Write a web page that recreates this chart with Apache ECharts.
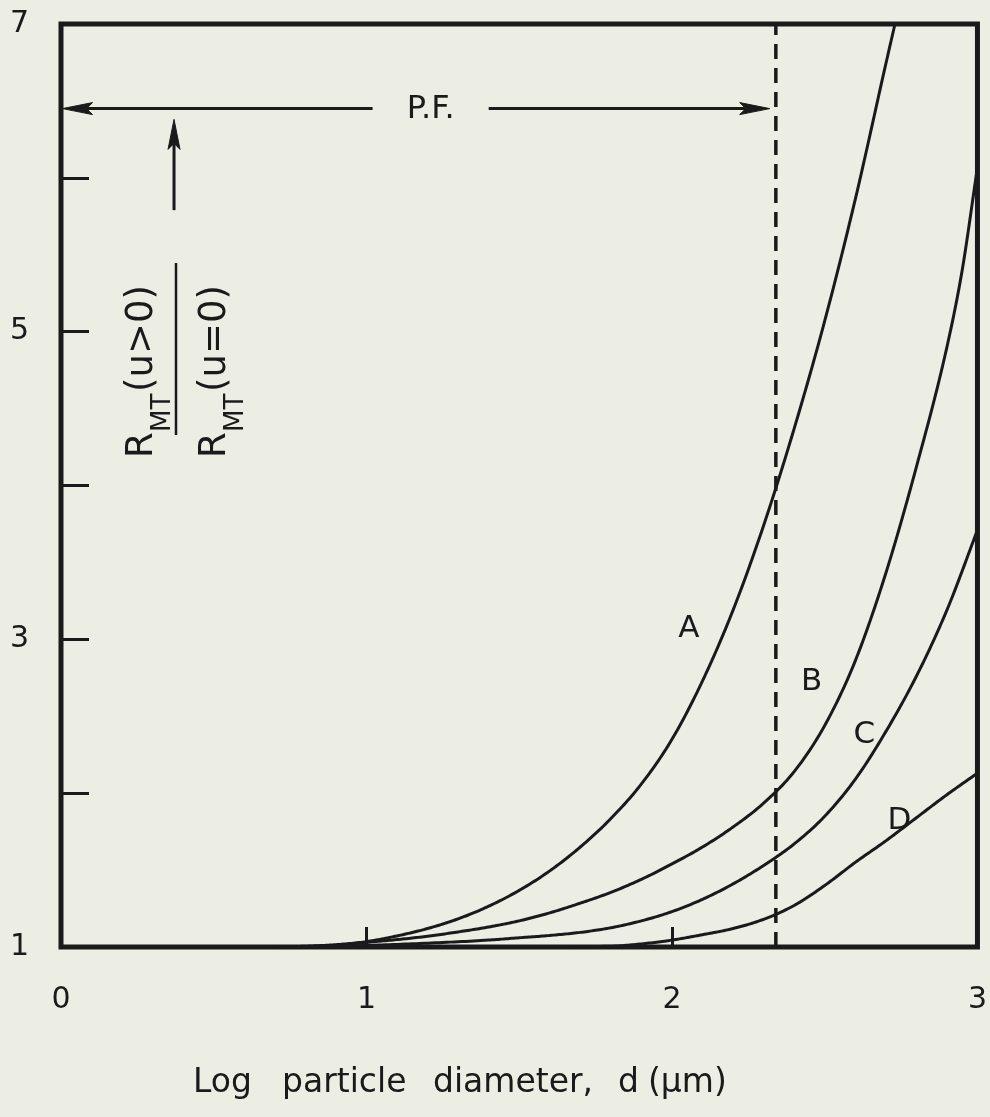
<!DOCTYPE html>
<html><head><meta charset="utf-8">
<script src="https://cdn.jsdelivr.net/npm/echarts@6/dist/echarts.min.js"></script>
<style>html,body{margin:0;padding:0;background:#eceee4;}#c{width:990px;height:1117px;}</style>
</head><body><div id="c"></div>
<script>
// ---- data ----
const xTickValues = [0, 1, 2, 3];
const yTickLabels = {1: '1', 3: '3', 5: '5', 7: '7'};
const curveA = [[0.7,1.0],[0.8,1.005],[0.9,1.015],[1.0,1.035],[1.1,1.072],[1.2,1.12],[1.3,1.183],[1.4,1.265],[1.5,1.368],[1.6,1.495],[1.7,1.65],[1.8,1.835],[1.9,2.06],[2.0,2.35],[2.1,2.73],[2.2,3.19],[2.3,3.74],[2.4,4.37],[2.5,5.07],[2.6,5.86],[2.7,6.74],[2.73,7.0]];
const curveB = [[0.7,1.0],[0.9,1.01],[1.0,1.03],[1.1,1.048],[1.2,1.07],[1.3,1.098],[1.4,1.13],[1.5,1.17],[1.6,1.222],[1.7,1.285],[1.8,1.355],[1.9,1.44],[2.0,1.54],[2.1,1.65],[2.2,1.78],[2.3,1.935],[2.4,2.14],[2.5,2.44],[2.6,2.86],[2.7,3.43],[2.8,4.12],[2.9,4.9],[2.95,5.4],[3.0,6.07]];
const curveC = [[0.8,1.0],[1.0,1.01],[1.2,1.025],[1.4,1.045],[1.5,1.06],[1.6,1.075],[1.7,1.095],[1.8,1.125],[1.9,1.17],[2.0,1.23],[2.1,1.31],[2.2,1.41],[2.3,1.53],[2.4,1.67],[2.5,1.85],[2.6,2.09],[2.7,2.40],[2.8,2.76],[2.9,3.19],[3.0,3.71]];
const curveD = [[0.8,1.0],[1.5,1.0],[1.8,1.005],[1.9,1.02],[2.0,1.045],[2.1,1.08],[2.2,1.12],[2.3,1.18],[2.4,1.27],[2.5,1.40],[2.6,1.55],[2.7,1.69],[2.8,1.84],[2.9,1.99],[3.0,2.13]];
const curves = [curveA, curveB, curveC, curveD];
const curveNames = ['A', 'B', 'C', 'D'];
const curveLabelAt = [[2.055, 3.07], [2.457, 2.72], [2.63, 2.38], [2.745, 1.82]];
const pfLine = 2.34;          // dashed vertical line (x)
const pfText = 'P.F.';
const pfTextAt = [1.21, 6.445];
// arrows: x1, y1, x2, y2 (head drawn at x2,y2)
const arrows = [[1.02, 6.45, 0.005, 6.45], [1.40, 6.45, 2.32, 6.45], [0.37, 5.79, 0.37, 6.38]];
const xTitleWords = ['Log', 'particle', 'diameter,', 'd', '(\u03bcm)'];

const INK = '#1a1a1a';
const FONT = '"DejaVu Sans", sans-serif';
const chart = echarts.init(document.getElementById('c'), null, {renderer: 'canvas'});

// monotone cubic (Fritsch-Carlson) path through the read points, for drawing only
function hermitePoints(pts, steps) {
  const n = pts.length, xs = pts.map(p => p[0]), ys = pts.map(p => p[1]);
  const d = [], m = new Array(n);
  for (let i = 0; i < n - 1; i++) d.push((ys[i + 1] - ys[i]) / (xs[i + 1] - xs[i]));
  m[0] = d[0]; m[n - 1] = d[n - 2];
  for (let i = 1; i < n - 1; i++) m[i] = (d[i - 1] * d[i] <= 0) ? 0 : (d[i - 1] + d[i]) / 2;
  for (let i = 0; i < n - 1; i++) {
    if (d[i] === 0) { m[i] = 0; m[i + 1] = 0; continue; }
    const a = m[i] / d[i], b = m[i + 1] / d[i], s = a * a + b * b;
    if (s > 9) { const t = 3 / Math.sqrt(s); m[i] = t * a * d[i]; m[i + 1] = t * b * d[i]; }
  }
  const out = [];
  for (let i = 0; i < n - 1; i++) {
    const h = xs[i + 1] - xs[i];
    for (let k = 0; k < steps; k++) {
      const t = k / steps, t2 = t * t, t3 = t2 * t;
      const y = (2 * t3 - 3 * t2 + 1) * ys[i] + (t3 - 2 * t2 + t) * h * m[i] + (-2 * t3 + 3 * t2) * ys[i + 1] + (t3 - t2) * h * m[i + 1];
      out.push([xs[i] + t * h, y]);
    }
  }
  out.push(pts[n - 1]);
  return out;
}

function txt(x, y, text, size, align) {
  return {type: 'text', x: x, y: y, style: {text: text, font: size + 'px ' + FONT, fill: INK, align: align || 'left', verticalAlign: 'middle'}};
}

const textMarks = curveNames.map((n, i) => [curveLabelAt[i][0], curveLabelAt[i][1], n, 31])
  .concat([[pfTextAt[0], pfTextAt[1], pfText, 32]]);

// horizontal layout of the x-axis title words (pixel x of each word start)
const titleX = [193, 282, 433, 618, 648];

chart.setOption({
  backgroundColor: '#eceee4',
  animation: false,
  grid: {left: 61, right: 11, top: 24, bottom: 170, show: true, borderColor: INK, borderWidth: 5, backgroundColor: 'transparent'},
  xAxis: {type: 'value', min: 0, max: 3, interval: 1,
    axisLine: {show: false}, splitLine: {show: false},
    axisTick: {show: true, inside: true, length: 20, lineStyle: {color: INK, width: 3}},
    axisLabel: {margin: 38, fontSize: 30, fontFamily: FONT, color: INK,
      formatter: v => xTickValues.indexOf(v) >= 0 ? String(v) : ''}},
  yAxis: {type: 'value', min: 1, max: 7, interval: 1,
    axisLine: {show: false}, splitLine: {show: false},
    axisTick: {show: true, inside: true, length: 28, lineStyle: {color: INK, width: 3}},
    axisLabel: {margin: 32, fontSize: 30, fontFamily: FONT, color: INK,
      formatter: v => yTickLabels[v] || ''}},
  series: [
    {type: 'custom', coordinateSystem: 'cartesian2d', z: 3,
      data: curves.map((c, i) => [c[c.length - 1][0], c[c.length - 1][1], i]), encode: {x: 0, y: 1},
      renderItem: function (params, api) {
        const c = curves[api.value(2)];
        const pts = hermitePoints(c, 16).map(p => api.coord(p));
        return {type: 'polyline', shape: {points: pts}, style: {stroke: INK, lineWidth: 3, fill: null, lineJoin: 'round'}};
      }},
    {type: 'line', data: [[pfLine, 1], [pfLine, 7]], showSymbol: false, symbol: 'none',
      lineStyle: {color: INK, width: 3.5, type: [15, 9]}, z: 2},
    {type: 'custom', coordinateSystem: 'cartesian2d', data: arrows, encode: {x: [0, 2], y: [1, 3]}, z: 4,
      renderItem: function (params, api) {
        const p1 = api.coord([api.value(0), api.value(1)]);
        const p2 = api.coord([api.value(2), api.value(3)]);
        const dx = p2[0] - p1[0], dy = p2[1] - p1[1];
        const len = Math.sqrt(dx * dx + dy * dy);
        const ux = dx / len, uy = dy / len, nx = -uy, ny = ux;
        const L = 30, W = 6;
        const back = [p2[0] - ux * L, p2[1] - uy * L];
        const notch = [p2[0] - ux * L * 0.8, p2[1] - uy * L * 0.8];
        return {type: 'group', children: [
          {type: 'line', shape: {x1: p1[0], y1: p1[1], x2: notch[0], y2: notch[1]}, style: {stroke: INK, lineWidth: 3}},
          {type: 'polygon', shape: {points: [p2, [back[0] + nx * W, back[1] + ny * W], notch, [back[0] - nx * W, back[1] - ny * W]]},
            style: {fill: INK, stroke: INK, lineWidth: 1}}
        ]};
      }},
    {type: 'custom', coordinateSystem: 'cartesian2d', data: textMarks, encode: {x: 0, y: 1}, z: 5,
      renderItem: function (params, api) {
        const item = textMarks[params.dataIndex];
        const p = api.coord([item[0], item[1]]);
        return {type: 'text', x: p[0], y: p[1], style: {text: item[2], font: item[3] + 'px ' + FONT, fill: INK, align: 'center', verticalAlign: 'middle'}};
      }}
  ],
  graphic: [
    {type: 'group', x: 176, y: 360, rotation: Math.PI / 2, children: [
      {type: 'line', shape: {x1: -75, y1: 0, x2: 97, y2: 0}, style: {stroke: INK, lineWidth: 2.5}},
      txt(-98, -34, 'R', 37), txt(-72, -13, 'MT', 26), txt(-32, -34, '(u>0)', 37),
      txt(-98, 39, 'R', 37), txt(-72, 60, 'MT', 26), txt(-32, 39, '(u=0)', 37)
    ]}
  ].concat(xTitleWords.map((w, i) => txt(titleX[i], 1083, w, 33)))
});
</script></body></html>
